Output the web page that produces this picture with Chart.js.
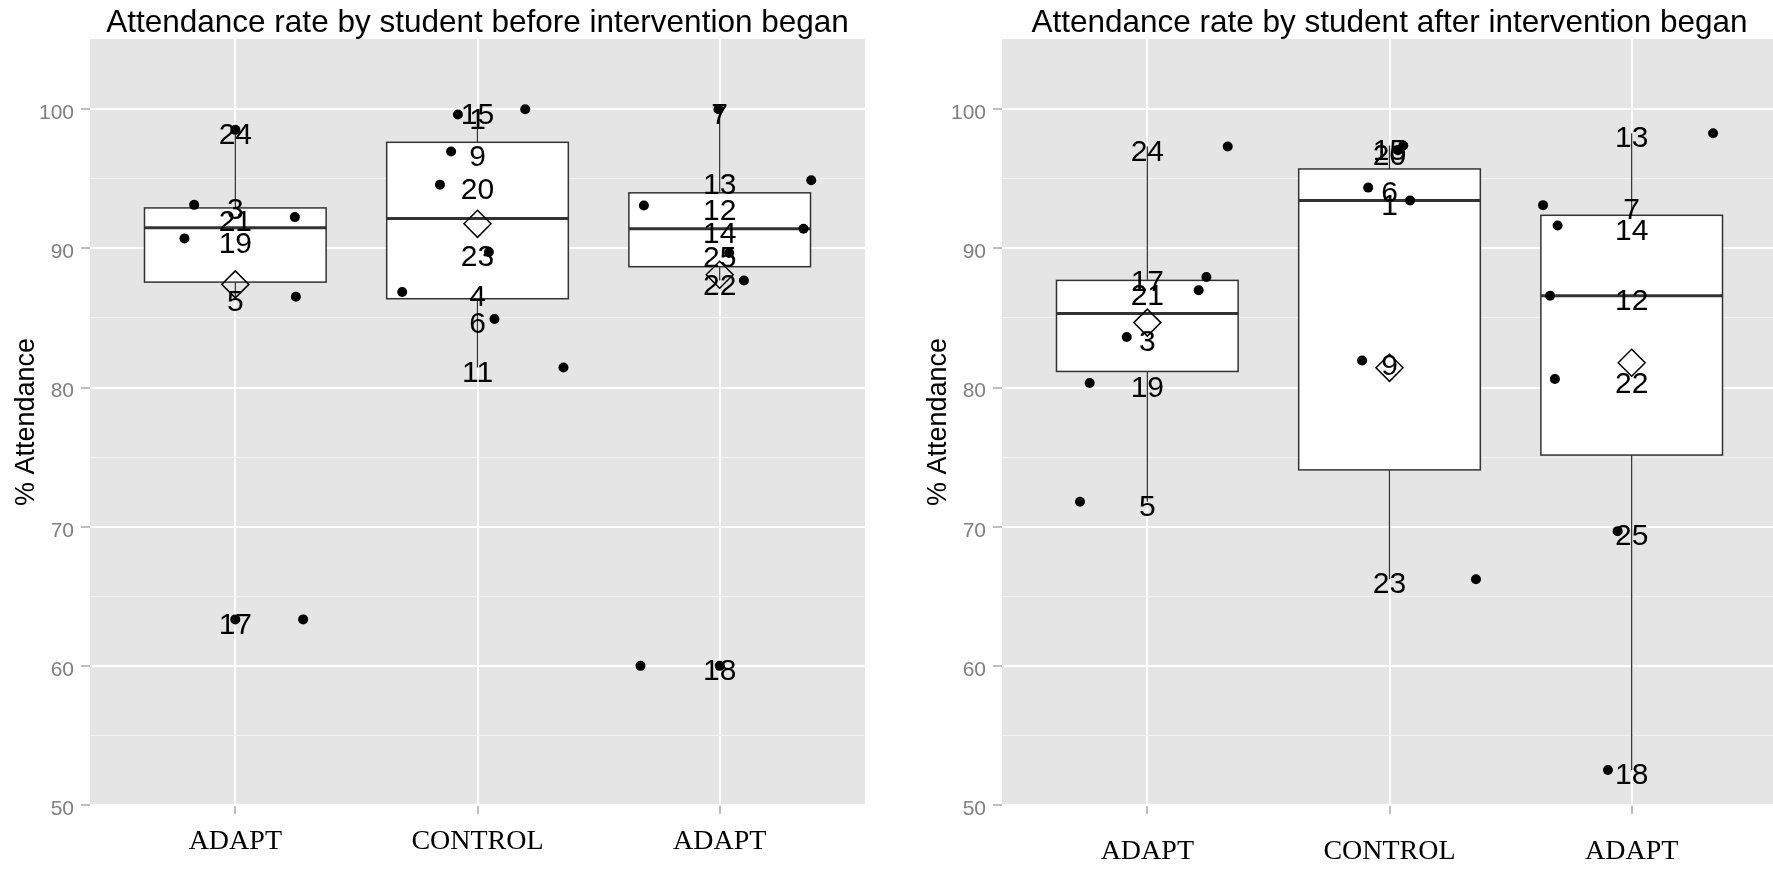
<!DOCTYPE html>
<html>
<head>
<meta charset="utf-8">
<script src="https://cdn.jsdelivr.net/npm/chart.js@4.4.1/dist/chart.umd.min.js"></script>
<style>
  html, body { margin: 0; padding: 0; background: #fff; overflow: hidden; width: 1773px; height: 869px; }
  canvas { position: absolute; top: 0; }
  #before { left: 0; }
  #after { left: 912px; }
</style>
</head>
<body>
<canvas id="before" width="895" height="869"></canvas>
<canvas id="after" width="880" height="869"></canvas>
<script>
// Attendance (%) per student, by programme group
const groupNames = ['ADAPT', 'CONTROL', 'ADAPT'];
const yTicks = [50, 60, 70, 80, 90, 100];

// before the intervention
const beforeGroup   = [0, 0, 0, 0, 0, 0,  1, 1, 1, 1, 1, 1, 1, 1,  2, 2, 2, 2, 2, 2, 2];
const beforeStudent = ['24', '3', '21', '19', '5', '17',
                       '15', '1', '9', '20', '23', '4', '6', '11',
                       '7', '13', '12', '14', '25', '22', '18'];
const beforeRate    = [98.52, 93.13, 92.25, 90.72, 86.53, 63.34,
                       100.0, 99.62, 96.96, 94.57, 89.74, 86.87, 84.93, 81.44,
                       100.0, 94.9, 93.09, 91.41, 89.67, 87.7, 60.0];
const beforeJitter  = [0.0, -0.17, 0.246, -0.21, 0.25, 0.28,
                       0.197, -0.081, -0.109, -0.155, 0.047, -0.311, 0.07, 0.355,
                       -0.005, 0.378, -0.313, 0.346, 0.039, 0.10, -0.327];

// after the intervention (student 11 falls below the plotted range)
const afterGroup   = [0, 0, 0, 0, 0, 0,  1, 1, 1, 1, 1, 1, 1,  2, 2, 2, 2, 2, 2, 2];
const afterStudent = ['24', '17', '21', '3', '19', '5',
                      '15', '20', '6', '1', '9', '23', '11',
                      '13', '7', '14', '12', '22', '25', '18'];
const afterRate    = [97.32, 87.94, 86.99, 83.64, 80.33, 71.79,
                      97.39, 97.05, 94.37, 93.44, 81.94, 66.23, 39.5,
                      98.28, 93.11, 91.65, 86.6, 80.62, 69.68, 52.52];
const afterJitter  = [0.332, 0.244, 0.212, -0.085, -0.238, -0.278,
                      0.057, 0.035, -0.088, 0.085, -0.113, 0.357, 0.0,
                      0.336, -0.366, -0.306, -0.337, -0.317, -0.058, -0.098];

const SANS  = '"Liberation Sans", Arial, sans-serif';
const SERIF = '"Liberation Serif", "Times New Roman", serif';

function quantile(sorted, p) {
  const h = (sorted.length - 1) * p;
  const lo = Math.floor(h);
  const hi = Math.min(lo + 1, sorted.length - 1);
  return sorted[lo] + (h - lo) * (sorted[hi] - sorted[lo]);
}

// Tukey box stats per group (1.5 IQR whiskers)
function boxStats(groups, rates) {
  return groupNames.map((_, g) => {
    const v = rates.filter((_, i) => groups[i] === g).sort((a, b) => a - b);
    const q1 = quantile(v, 0.25), med = quantile(v, 0.5), q3 = quantile(v, 0.75);
    const loF = q1 - 1.5 * (q3 - q1), hiF = q3 + 1.5 * (q3 - q1);
    const inside = v.filter(x => x >= loF && x <= hiF);
    return {
      x: g + 1, q1, med, q3,
      lo: inside[0], hi: inside[inside.length - 1],
      mean: v.reduce((s, x) => s + x, 0) / v.length,
      out: v.filter(x => x < loF || x > hiF),
    };
  });
}

function clipArea(ctx, a) {
  ctx.beginPath();
  ctx.rect(a.left, a.top, a.right - a.left, a.bottom - a.top);
  ctx.clip();
}

function makePanel(id, title, groups, names, rates, jitter, padRight, labelPad) {
  const stats = boxStats(groups, rates);

  const panelBg = {
    id: 'panelBg',
    beforeDraw(chart) {
      const { ctx, chartArea: a } = chart;
      ctx.save();
      ctx.fillStyle = '#e5e5e5';
      ctx.fillRect(a.left, a.top, a.right - a.left, a.bottom - a.top);
      ctx.restore();
    }
  };

  const boxes = {
    id: 'boxes',
    beforeDatasetsDraw(chart) {
      const { ctx, chartArea, scales: { x, y } } = chart;
      ctx.save();
      clipArea(ctx, chartArea);
      ctx.strokeStyle = '#333';
      stats.forEach(s => {
        const cx = x.getPixelForValue(s.x);
        const l = x.getPixelForValue(s.x - 0.375), r = x.getPixelForValue(s.x + 0.375);
        const top = y.getPixelForValue(s.q3), bot = y.getPixelForValue(s.q1);
        ctx.lineWidth = 1.3;
        ctx.beginPath();
        ctx.moveTo(cx, top); ctx.lineTo(cx, y.getPixelForValue(s.hi));
        ctx.moveTo(cx, bot); ctx.lineTo(cx, y.getPixelForValue(s.lo));
        ctx.stroke();
        ctx.fillStyle = '#fff';
        ctx.fillRect(l, top, r - l, bot - top);
        ctx.lineWidth = 1.5;
        ctx.strokeRect(l, top, r - l, bot - top);
        const m = y.getPixelForValue(s.med);
        ctx.lineWidth = 3;
        ctx.beginPath();
        ctx.moveTo(l, m); ctx.lineTo(r, m);
        ctx.stroke();
      });
      ctx.restore();
    }
  };

  const studentLabels = {
    id: 'studentLabels',
    afterDatasetsDraw(chart) {
      const { ctx, chartArea, scales: { x, y } } = chart;
      ctx.save();
      clipArea(ctx, chartArea);
      ctx.font = '30px ' + SANS;
      ctx.fillStyle = '#000';
      ctx.textAlign = 'center';
      ctx.textBaseline = 'middle';
      names.forEach((n, i) => {
        ctx.fillText(n, x.getPixelForValue(groups[i] + 1), y.getPixelForValue(rates[i]) + 6);
      });
      ctx.restore();
    }
  };

  const panelTitle = {
    id: 'panelTitle',
    afterDraw(chart) {
      const { ctx, chartArea: a } = chart;
      ctx.save();
      ctx.font = '31.5px ' + SANS;
      ctx.fillStyle = '#000';
      ctx.textAlign = 'center';
      ctx.textBaseline = 'alphabetic';
      ctx.fillText(title, (a.left + a.right) / 2, 32);
      ctx.restore();
    }
  };

  const isMajor = v => yTicks.includes(v);

  return new Chart(document.getElementById(id), {
    type: 'scatter',
    data: {
      datasets: [
        { label: 'mean', order: 0,
          data: stats.map(s => ({ x: s.x, y: s.mean })),
          pointStyle: 'rectRot', pointRadius: 13.5, borderColor: '#000', borderWidth: 1.5,
          backgroundColor: 'rgba(0,0,0,0)' },
        { label: 'students', order: 1,
          data: rates.map((v, i) => ({ x: groups[i] + 1 + jitter[i], y: v })),
          pointRadius: 5, backgroundColor: '#000', borderWidth: 0 },
        { label: 'outliers', order: 2,
          data: stats.flatMap(s => s.out.map(v => ({ x: s.x, y: v }))),
          pointRadius: 5, backgroundColor: '#000', borderWidth: 0 },
      ]
    },
    options: {
      responsive: false, animation: false, devicePixelRatio: 1, events: [],
      layout: { padding: { top: 39, right: padRight, left: 0, bottom: 0 } },
      plugins: { legend: { display: false }, tooltip: { enabled: false } },
      scales: {
        x: {
          type: 'linear', min: 0.4, max: 3.6,
          afterBuildTicks: s => { s.ticks = groupNames.map((_, i) => ({ value: i + 1 })); },
          afterFit: s => { s.height = 64; },
          ticks: { callback: v => groupNames[v - 1], color: '#000',
                   font: { family: SERIF, size: 28 }, padding: labelPad,
                   autoSkip: false, maxRotation: 0 },
          grid: { color: '#fff', lineWidth: 2, tickColor: '#7f7f7f', tickLength: 9, tickWidth: 1 },
          border: { display: false },
        },
        y: {
          min: 50, max: 105.05,
          afterBuildTicks: s => {
            s.ticks = yTicks.flatMap((v, i) => (i ? [v - 5, v] : [v])).map(v => ({ value: v }));
          },
          afterFit: s => { s.width = 90; },
          ticks: { callback: v => (isMajor(v) ? String(v) : ''), color: '#7f7f7f',
                   font: { family: SANS, size: 21 }, padding: 7, labelOffset: 4, autoSkip: false },
          grid: {
            color: c => (isMajor(c.tick && c.tick.value) ? '#fff' : '#f2f2f2'),
            lineWidth: c => (isMajor(c.tick && c.tick.value) ? 2 : 1),
            tickColor: c => (isMajor(c.tick && c.tick.value) ? '#7f7f7f' : 'rgba(0,0,0,0)'),
            tickLength: 9, tickWidth: 1,
          },
          border: { display: false },
          title: { display: true, text: '% Attendance', color: '#000',
                   font: { family: SANS, size: 27 }, padding: { top: 10, bottom: 0 } },
        }
      }
    },
    plugins: [panelBg, boxes, studentLabels, panelTitle]
  });
}

makePanel('before', 'Attendance rate by student before intervention began',
  beforeGroup, beforeStudent, beforeRate, beforeJitter, 30, 11);
makePanel('after', 'Attendance rate by student after intervention began',
  afterGroup, afterStudent, afterRate, afterJitter, 15, 21);
</script>
</body>
</html>
